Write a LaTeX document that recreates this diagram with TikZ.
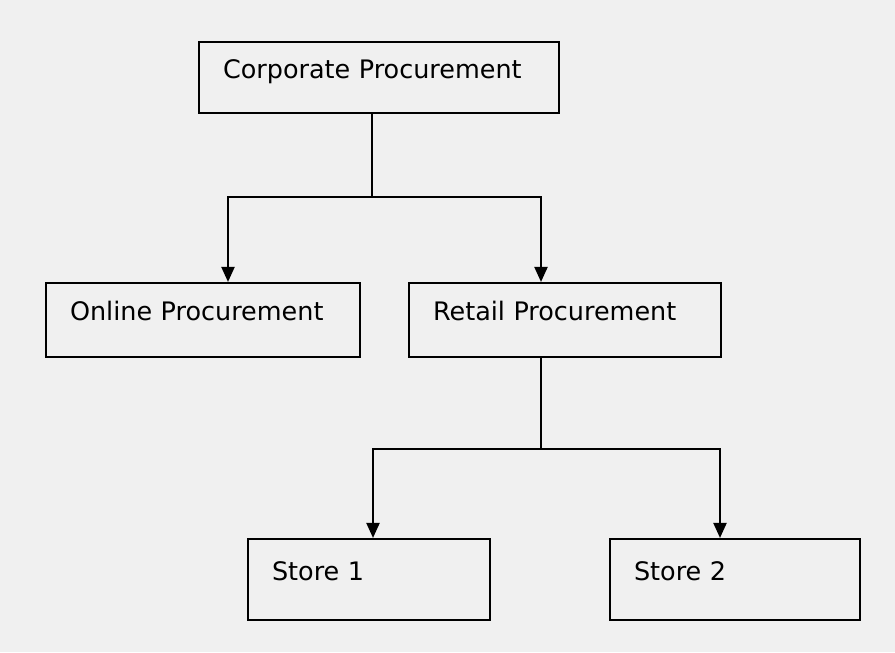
\documentclass[tikz,border=0pt]{standalone}
\usepackage{fontspec}
\setmainfont{DejaVu Sans}
\usetikzlibrary{arrows.meta}

\begin{document}
\begin{tikzpicture}[thick, line width=1.2pt]
\tikzstyle{every node}=[draw,rectangle,inner xsep=0.48cm,inner ysep=0pt,align=left,
  text height=0.37cm,text depth=0.34cm,font=\fontsize{14.5}{17}\selectfont]
\tikzstyle{arrow}=[-{Triangle[length=0.30cm,width=0.26cm]}]

\fill[black!6] (0,0) rectangle (17.90,13.04);
\useasboundingbox (0,0) rectangle (17.90,13.04);

\node (corp) at (7.58,11.49) [minimum width=7.20cm,minimum height=1.42cm,text width=6.24cm] {Corporate Procurement};
\node (online) at (4.06,6.64) [minimum width=6.28cm,minimum height=1.48cm,text width=5.32cm] {Online Procurement};
\node (retail) at (11.30,6.64) [minimum width=6.24cm,minimum height=1.48cm,text width=5.28cm] {Retail Procurement};
\node (store1) at (7.38,1.45) [minimum width=4.84cm,minimum height=1.62cm,text width=3.88cm] {Store 1};
\node (store2) at (14.70,1.45) [minimum width=5.00cm,minimum height=1.62cm,text width=4.04cm] {Store 2};

\coordinate (j1) at (7.44,9.10);
\coordinate (j2) at (10.82,4.06);

\draw (j1 |- corp.south) -- (j1);
\draw[arrow] (j1) -| ([xshift=5mm]online.north);
\draw[arrow] (j1) -| ([xshift=-4.8mm]retail.north);

\draw (j2 |- retail.south) -- (j2);
\draw[arrow] (j2) -| ([xshift=0.8mm]store1.north);
\draw[arrow] (j2) -| ([xshift=-3mm]store2.north);
\end{tikzpicture}
\end{document}
